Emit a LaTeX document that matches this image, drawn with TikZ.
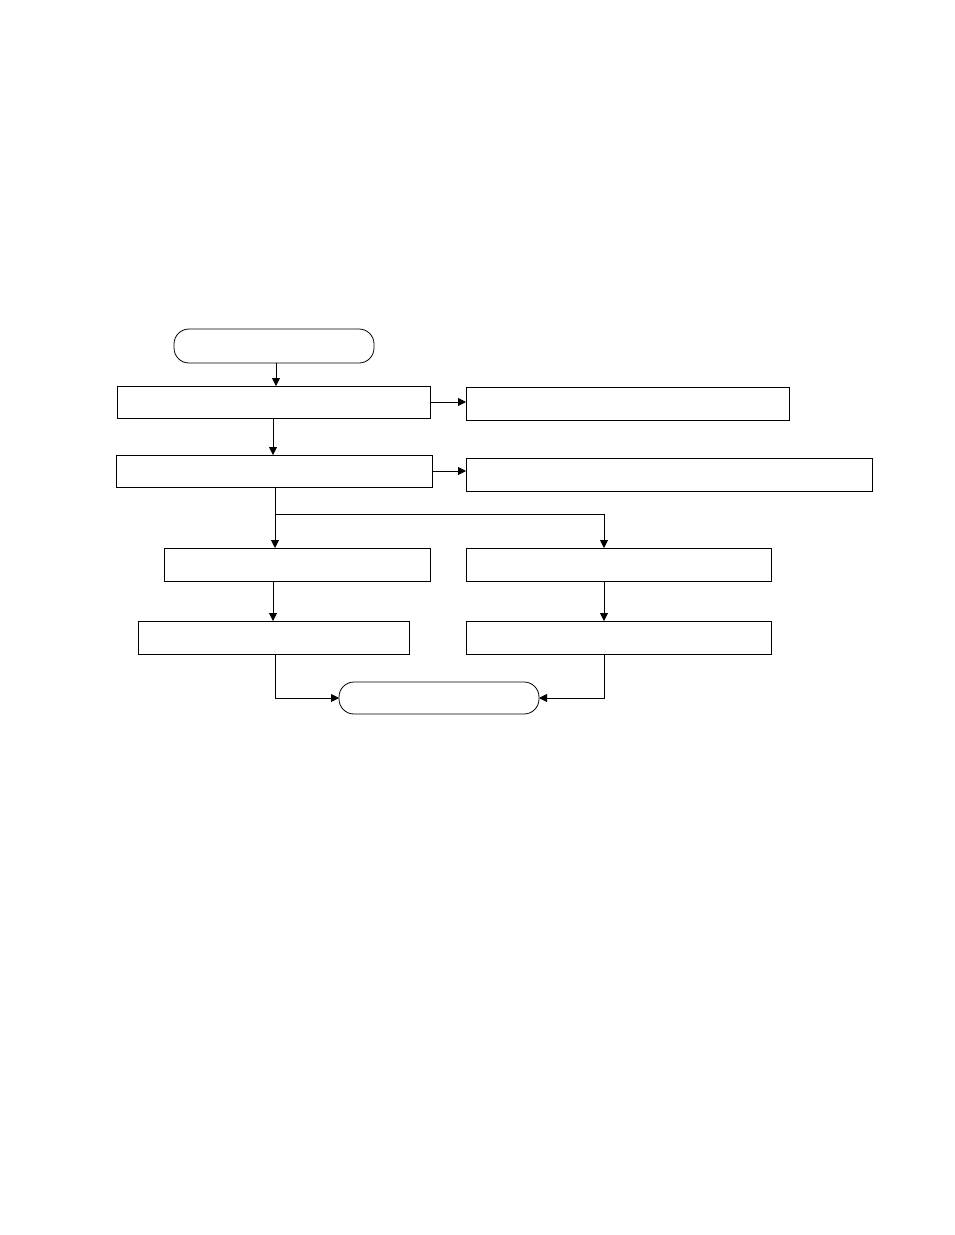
\documentclass[tikz,border=0pt]{standalone}
\usetikzlibrary{arrows.meta,positioning}
\begin{document}
\begin{tikzpicture}[x=1pt,y=-1pt,
  boxn/.style={draw,line width=0.9pt,rectangle,anchor=north west,inner sep=0pt,outer sep=0pt},
  termn/.style={draw,line width=0.8pt,rectangle,rounded corners=15pt,anchor=north west,inner sep=0pt,outer sep=0pt},
  conn/.style={line width=0.9pt,-{Triangle[length=8pt,width=8pt]}},
  plain/.style={line width=0.9pt}]
\useasboundingbox (0,0) rectangle (954,1235);
\fill[white] (0,0) rectangle (954,1235);
\node[termn,minimum width=200pt,minimum height=34pt] (start) at (174,329) {};
\node[boxn,minimum width=313pt,minimum height=32pt] (a) at (117,386) {};
\node[boxn,minimum width=323pt,minimum height=33pt] (ar) at (466,387) {};
\node[boxn,minimum width=316pt,minimum height=32pt] (b) at (116,455) {};
\node[boxn,minimum width=406pt,minimum height=33pt] (br) at (466,458) {};
\node[boxn,minimum width=266pt,minimum height=33pt] (c) at (164,548) {};
\node[boxn,minimum width=305pt,minimum height=33pt] (cr) at (466,548) {};
\node[boxn,minimum width=271pt,minimum height=33pt] (d) at (138,621) {};
\node[boxn,minimum width=305pt,minimum height=33pt] (dr) at (466,621) {};
\node[termn,minimum width=200pt,minimum height=32pt] (end) at (339,682) {};
\coordinate (split) at (275,514);
\coordinate (splitr) at (604,514);
\draw[conn] (start.south -| 276,0) -- (a.north -| 276,0);
\draw[conn] (a.south -| 273,0) -- (b.north -| 273,0);
\draw[conn] (a.east) -- (ar.west |- a.east);
\draw[conn] (b.east |- 0,471) -- (br.west |- 0,471);
\draw[plain] (b.south -| split) -- (split) -- (splitr);
\draw[conn] (split) -- (c.north -| split);
\draw[conn] (splitr) -- (cr.north -| splitr);
\draw[conn] (c.south -| 273,0) -- (d.north -| 273,0);
\draw[conn] (cr.south -| 604,0) -- (dr.north -| 604,0);
\draw[conn] (d.south -| 275,0) |- (end.west);
\draw[conn] (dr.south -| 604,0) |- (end.east);
\end{tikzpicture}
\end{document}
